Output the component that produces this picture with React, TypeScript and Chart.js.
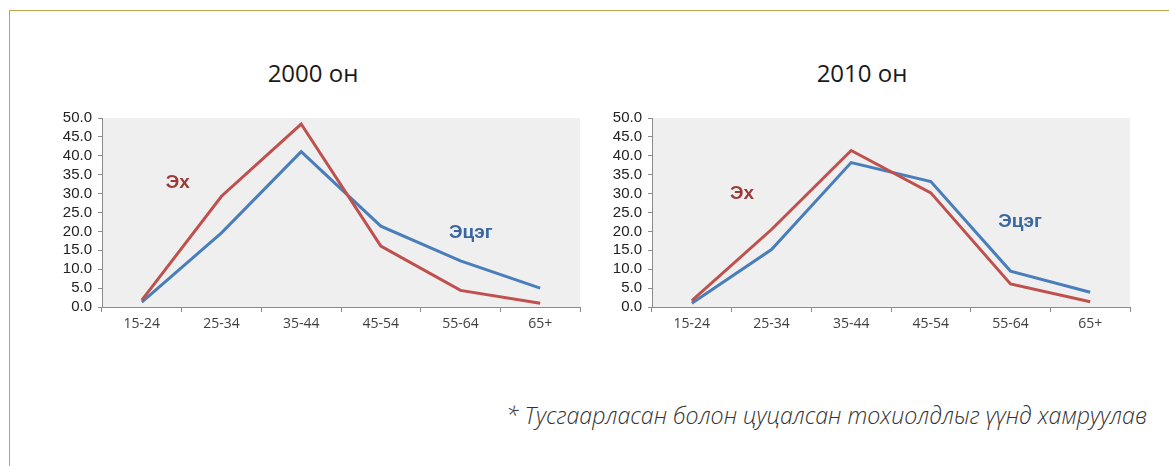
import React, { useEffect, useRef } from "react";
import { Chart, registerables } from "chart.js";

Chart.register(...registerables);

const categories = ["15-24", "25-34", "35-44", "45-54", "55-64", "65+"];
const mother2000 = [1.8, 29.3, 48.4, 16.1, 4.4, 1.0];
const father2000 = [1.3, 19.6, 41.1, 21.4, 12.2, 5.0];
const mother2010 = [1.7, 20.5, 41.4, 30.2, 6.1, 1.4];
const father2010 = [1.0, 15.2, 38.2, 33.2, 9.5, 3.9];
const motherLabel = "Эх";
const fatherLabel = "Эцэг";
const titles = ["2000 он", "2010 он"];
const footnote = "* Тусгаарласан болон цуцалсан тохиолдлыг үүнд хамруулав";
// label anchor positions in data space [categoryIndex, value]
const labelPos2000 = { mother: [0.45, 32.9], father: [4.13, 19.7] };
const labelPos2010 = { mother: [0.63, 30.0], father: [4.12, 22.6] };

const RED = "#c0504d";
const BLUE = "#4a7ebb";

const bgPlugin = {
  id: "plotBg",
  beforeDraw(chart: any) {
    const { ctx, chartArea } = chart;
    ctx.save();
    ctx.fillStyle = "#efefef";
    ctx.fillRect(chartArea.left, chartArea.top, chartArea.right - chartArea.left, chartArea.bottom - chartArea.top);
    ctx.restore();
  },
};

const seriesLabelPlugin = {
  id: "seriesLabels",
  afterDatasetsDraw(chart: any, _args: any, opts: any) {
    const { ctx, scales } = chart;
    const items = [
      { text: motherLabel, pos: opts.mother, color: "#9b3a38" },
      { text: fatherLabel, pos: opts.father, color: "#3a66a0" },
    ];
    ctx.save();
    ctx.font = "bold 19px 'Liberation Sans', Arial, sans-serif";
    ctx.textAlign = "center";
    ctx.textBaseline = "middle";
    items.forEach((it) => {
      ctx.fillStyle = it.color;
      ctx.fillText(it.text, scales.x.getPixelForValue(it.pos[0]), scales.y.getPixelForValue(it.pos[1]));
    });
    ctx.restore();
  },
};

function LineChart({ mother, father, labelPos, left }: any) {
  const ref = useRef<HTMLCanvasElement>(null);
  useEffect(() => {
    const chart = new Chart(ref.current as HTMLCanvasElement, {
      type: "line",
      data: {
        labels: categories,
        datasets: [
          { label: motherLabel, data: mother, borderColor: RED, backgroundColor: RED, borderWidth: 3, pointRadius: 0, tension: 0 },
          { label: fatherLabel, data: father, borderColor: BLUE, backgroundColor: BLUE, borderWidth: 3, pointRadius: 0, tension: 0 },
        ],
      },
      options: {
        animation: false,
        responsive: false,
        maintainAspectRatio: false,
        layout: { padding: { top: 18, right: 10, bottom: 0, left: 0 } },
        plugins: {
          legend: { display: false },
          tooltip: { enabled: false },
          seriesLabels: labelPos,
        } as any,
        scales: {
          x: {
            offset: true,
            grid: { display: true, offset: true, drawOnChartArea: false, drawTicks: true, tickLength: 5, color: "#8c8c8c" },
            border: { display: true, color: "#8c8c8c", width: 1 },
            ticks: { color: "#404040", font: { family: "'Open Sans', sans-serif", size: 14 }, padding: 4, maxRotation: 0, autoSkip: false },
            afterFit(scale: any) { scale.height = 33; },
          },
          y: {
            min: 0,
            max: 50,
            grid: { display: true, drawOnChartArea: false, drawTicks: true, tickLength: 4, color: "#8c8c8c" },
            border: { display: true, color: "#8c8c8c", width: 1 },
            ticks: { stepSize: 5, autoSkip: false, color: "#222", font: { family: "'Liberation Sans', Arial, sans-serif", size: 15 }, padding: 6, callback: (v: any) => Number(v).toFixed(1) },
            afterFit(scale: any) { scale.width = 62; },
          },
        },
      },
      plugins: [bgPlugin, seriesLabelPlugin],
    });
    return () => chart.destroy();
  }, []);
  return (
    <canvas ref={ref} width={550} height={240} style={{ position: "absolute", left, top: 100, width: 550, height: 240 }} />
  );
}

export default function App() {
  const titleStyle: React.CSSProperties = {
    position: "absolute",
    top: 58,
    width: 300,
    textAlign: "center",
    fontFamily: "'Open Sans', sans-serif",
    fontSize: 24,
    color: "#1a1a1a",
    lineHeight: "30px",
  };
  return (
    <div style={{ position: "absolute", left: 0, top: 0, width: 1169, height: 466, background: "#fff", overflow: "hidden" }}>
      <div style={{ position: "absolute", left: 9, top: 10, right: -2, bottom: -2, borderTop: "1.5px solid #c6a04e", borderLeft: "1.5px solid #c6a04e" }} />
      <div style={{ ...titleStyle, left: 163 }}>{titles[0]}</div>
      <div style={{ ...titleStyle, left: 712 }}>{titles[1]}</div>
      <LineChart mother={mother2000} father={father2000} labelPos={labelPos2000} left={40} />
      <LineChart mother={mother2010} father={father2010} labelPos={labelPos2010} left={590} />
      <div style={{ position: "absolute", right: 22, top: 400, fontFamily: "'Open Sans', sans-serif", fontStyle: "italic", fontWeight: 300, fontSize: 23.2, color: "#333", whiteSpace: "nowrap", lineHeight: "30px" }}>{footnote}</div>
    </div>
  );
}
